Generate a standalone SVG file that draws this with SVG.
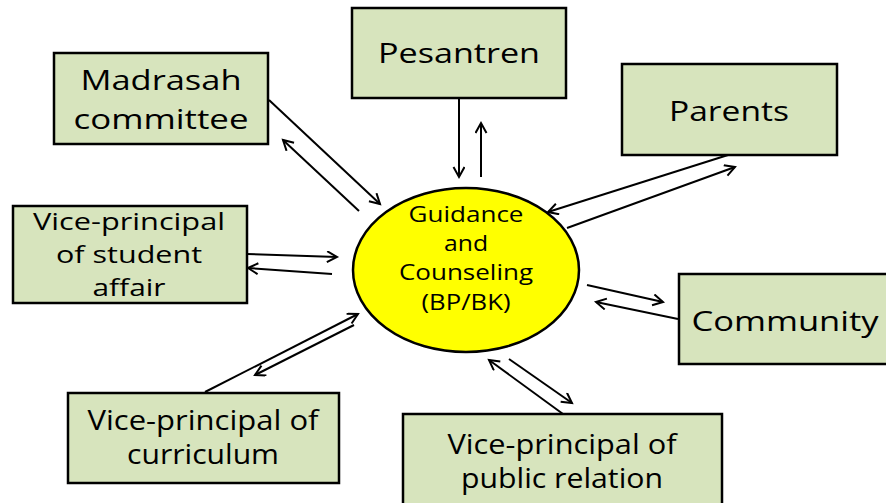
<svg xmlns="http://www.w3.org/2000/svg" width="886" height="503" viewBox="0 0 886 503">
<style>
.box{fill:#d7e4bd;stroke:#000;stroke-width:2.5}
.t{font-family:"Open Sans","Liberation Sans",Arial,sans-serif;font-size:27px;fill:#000;text-anchor:middle}
.s{font-size:24px}
.e{font-family:"Open Sans","Liberation Sans",Arial,sans-serif;font-size:21px;fill:#000;text-anchor:middle}
.c{fill:none;stroke:#000;stroke-width:2;marker-end:url(#ah)}
</style>
<defs>
<marker id="ah" markerUnits="userSpaceOnUse" markerWidth="14" markerHeight="14" refX="11" refY="6" orient="auto">
<path d="M1,0.5 L11,6 L1,11.5" fill="none" stroke="#000" stroke-width="2"/>
</marker>
</defs>
<rect width="886" height="503" fill="#fff"/>
<g id="connectors">
<line class="c" x1="459" y1="98" x2="459" y2="177"/>
<line class="c" x1="481" y1="177" x2="481" y2="123"/>
<line class="c" x1="269" y1="100" x2="380" y2="204"/>
<line class="c" x1="359" y1="211" x2="283" y2="140"/>
<line class="c" x1="247" y1="254" x2="337" y2="257"/>
<line class="c" x1="332" y1="274" x2="248" y2="268"/>
<line class="c" x1="728" y1="155" x2="548" y2="212"/>
<line class="c" x1="567" y1="228" x2="735" y2="167"/>
<line class="c" x1="587" y1="285" x2="663" y2="302"/>
<line class="c" x1="678" y1="319" x2="596" y2="302"/>
<line class="c" x1="509" y1="359" x2="572" y2="403"/>
<line class="c" x1="563" y1="414" x2="489" y2="360"/>
<line class="c" x1="205" y1="392" x2="358" y2="314"/>
<line class="c" x1="354" y1="325" x2="255" y2="375"/>
</g>
<g id="pesantren">
<rect class="box" x="352" y="8" width="214" height="90"/>
<text class="t" x="459" y="63" textLength="162" lengthAdjust="spacingAndGlyphs">Pesantren</text>
</g>
<g id="madrasah">
<rect class="box" x="54" y="53" width="214" height="91"/>
<text class="t" x="161" y="90" textLength="161" lengthAdjust="spacingAndGlyphs">Madrasah</text>
<text class="t" x="161" y="129" textLength="175" lengthAdjust="spacingAndGlyphs">committee</text>
</g>
<g id="student">
<rect class="box" x="13" y="206" width="234" height="97"/>
<text class="t s" x="129" y="230" textLength="192" lengthAdjust="spacingAndGlyphs">Vice-principal</text>
<text class="t s" x="129" y="263" textLength="146" lengthAdjust="spacingAndGlyphs">of student</text>
<text class="t s" x="129" y="296" textLength="73" lengthAdjust="spacingAndGlyphs">affair</text>
</g>
<g id="parents">
<rect class="box" x="622" y="64" width="215" height="91"/>
<text class="t" x="729" y="121" textLength="120" lengthAdjust="spacingAndGlyphs">Parents</text>
</g>
<g id="community">
<rect class="box" x="679" y="274" width="212" height="90"/>
<text class="t" x="785" y="331" textLength="187" lengthAdjust="spacingAndGlyphs">Community</text>
</g>
<g id="curriculum">
<rect class="box" x="68" y="393" width="271" height="90"/>
<text class="t" x="203" y="430" textLength="231" lengthAdjust="spacingAndGlyphs">Vice-principal of</text>
<text class="t" x="203" y="464" textLength="152" lengthAdjust="spacingAndGlyphs">curriculum</text>
</g>
<g id="public">
<rect class="box" x="403" y="414" width="319" height="100"/>
<text class="t" x="562" y="454" textLength="229" lengthAdjust="spacingAndGlyphs">Vice-principal of</text>
<text class="t" x="562" y="488" textLength="202" lengthAdjust="spacingAndGlyphs">public relation</text>
</g>
<g id="guidance">
<ellipse cx="466" cy="270" rx="113" ry="82" fill="#ffff00" stroke="#000" stroke-width="2.5"/>
<text class="e" x="466" y="222" textLength="115" lengthAdjust="spacingAndGlyphs">Guidance</text>
<text class="e" x="466" y="251" textLength="44" lengthAdjust="spacingAndGlyphs">and</text>
<text class="e" x="466" y="280" textLength="134" lengthAdjust="spacingAndGlyphs">Counseling</text>
<text class="e" x="466" y="310" textLength="89" lengthAdjust="spacingAndGlyphs">(BP/BK)</text>
</g>
</svg>
